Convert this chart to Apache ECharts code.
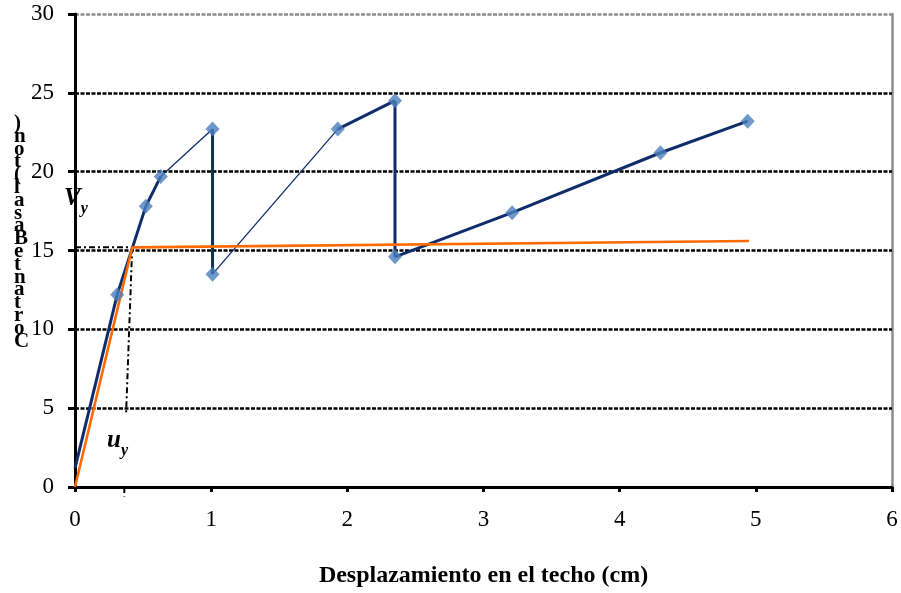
<!DOCTYPE html>
<html>
<head>
<meta charset="utf-8">
<script src="https://cdn.jsdelivr.net/npm/echarts@6/dist/echarts.min.js"></script>
<style>
  html, body { margin: 0; padding: 0; background: #fff; overflow: hidden; }
  #chart { width: 901px; height: 593px; }
</style>
</head>
<body>
<div id="chart"></div>
<script>
// Pushover response: roof displacement (cm) vs base shear (ton)
const dispX  = [0, 0.31, 0.52, 0.63, 1.01, 1.01, 1.93, 2.35, 2.35, 3.21, 4.30, 4.94];
const shearY = [1.2, 12.2, 17.8, 19.7, 22.7, 13.5, 22.7, 24.5, 14.6, 17.4, 21.2, 23.2];
// line weight of each segment between consecutive points (true = heavy)
const heavySeg = [true, true, true, false, true, false, true, true, true, true, true];

// Idealized bilinear curve
const bilinX = [0, 0.42, 4.95];
const bilinY = [0, 15.2, 15.6];

// Yield point guides (Vy, uy)
const yieldHoriz = [[0, 15.2], [0.42, 15.2]];
const yieldVert  = [[0.42, 15.2], [0.375, 4.6]];
const yieldTick  = [[0.362, 0], [0.362, -0.6]];

const xTicks = { min: 0, max: 6, interval: 1 };
const yTicks = { min: 0, max: 30, interval: 5 };

const serif = '"Liberation Serif", "Times New Roman", serif';
const navy = '#0f2c6b';
const markerBlue = '#4a7ebb';
const orange = '#ff6a00';

const series = [];
for (let i = 0; i < heavySeg.length; i++) {
  series.push({
    type: 'line',
    data: [[dispX[i], shearY[i]], [dispX[i + 1], shearY[i + 1]]],
    symbol: 'none',
    lineStyle: { color: navy, width: heavySeg[i] ? 3 : 1.3 },
    z: 4,
    silent: true
  });
}
series.push({
  type: 'line',
  data: bilinX.map((x, i) => [x, bilinY[i]]),
  symbol: 'none',
  lineStyle: { color: orange, width: 2.6 },
  z: 5,
  silent: true
});
series.push({
  type: 'scatter',
  data: dispX.slice(1).map((x, i) => [x, shearY[i + 1]]),
  symbol: 'diamond',
  symbolSize: [14, 15],
  itemStyle: { color: markerBlue },
  z: 6,
  silent: true
});
[yieldHoriz, yieldVert, yieldTick].forEach(seg => {
  series.push({
    type: 'line',
    data: seg,
    symbol: 'none',
    clip: false,
    lineStyle: { color: '#000', width: 2, type: [6, 3, 2, 3] },
    z: 3,
    silent: true
  });
});

const yTitle = 'Cortante Basal (ton)';
const stackedTitle = yTitle.split('').reverse().filter(c => c !== ' ').join('\n');

const chart = echarts.init(document.getElementById('chart'), null, { renderer: 'canvas' });
chart.setOption({
  animation: false,
  backgroundColor: '#fff',
  grid: { left: 75, right: 9, top: 14, bottom: 105 },
  xAxis: {
    type: 'value',
    min: xTicks.min, max: xTicks.max, interval: xTicks.interval,
    axisLine: { show: true, onZero: false, lineStyle: { color: '#000', width: 3 } },
    axisTick: { show: true, length: 5, lineStyle: { color: '#000', width: 3 } },
    axisLabel: { color: '#000', fontFamily: serif, fontSize: 23, margin: 21 },
    splitLine: { show: false },
    name: 'Desplazamiento en el techo (cm)',
    nameLocation: 'middle',
    nameGap: 77,
    nameTextStyle: { color: '#000', fontFamily: serif, fontSize: 24, fontWeight: 'bold' }
  },
  yAxis: [{
    type: 'value',
    min: yTicks.min, max: yTicks.max, interval: yTicks.interval,
    axisLine: { show: true, onZero: false, lineStyle: { color: '#000', width: 3 } },
    axisTick: { show: true, length: 7, lineStyle: { color: '#000', width: 3 } },
    axisLabel: { color: '#000', fontFamily: serif, fontSize: 23, margin: 21 },
    splitLine: {
      show: true,
      lineStyle: {
        color: ['#000', '#000', '#000', '#000', '#000', '#000', '#8c8c8c'],
        width: 2.5,
        type: [4, 1.5]
      }
    },
    z: 3
  }, {
    type: 'value',
    position: 'right',
    min: yTicks.min, max: yTicks.max, interval: yTicks.interval,
    axisLine: { show: true, onZero: false, lineStyle: { color: '#8c8c8c', width: 2.5 } },
    axisTick: { show: false },
    axisLabel: { show: false },
    splitLine: { show: false }
  }],
  series: series,
  graphic: [
    {
      type: 'text',
      left: 14, top: 113,
      style: {
        text: stackedTitle,
        font: 'bold 21px ' + serif,
        lineHeight: 12.8,
        fill: '#000'
      }
    },
    {
      type: 'text',
      left: 64, top: 186,
      style: {
        text: '{v|V}{s|y}',
        rich: {
          v: { font: 'italic bold 25px ' + serif, fill: '#000', verticalAlign: 'bottom' },
          s: { font: 'italic bold 16px ' + serif, fill: '#000', verticalAlign: 'bottom', padding: [0, 0, -6, 0] }
        }
      }
    },
    {
      type: 'text',
      left: 107, top: 428,
      style: {
        text: '{v|u}{s|y}',
        rich: {
          v: { font: 'italic bold 25px ' + serif, fill: '#000', verticalAlign: 'bottom' },
          s: { font: 'italic bold 16px ' + serif, fill: '#000', verticalAlign: 'bottom', padding: [0, 0, -6, 0] }
        }
      }
    }
  ]
});
</script>
</body>
</html>
